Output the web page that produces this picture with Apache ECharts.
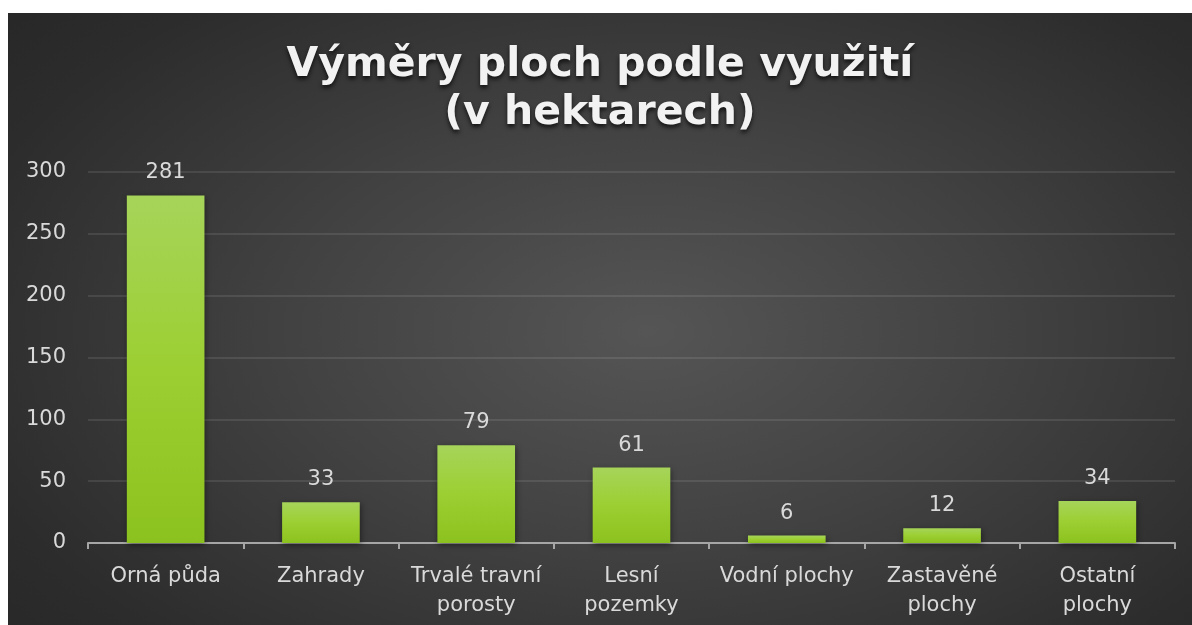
<!DOCTYPE html>
<html>
<head>
<meta charset="utf-8">
<script src="https://cdn.jsdelivr.net/npm/echarts@6/dist/echarts.min.js"></script>
<style>
  html, body { margin: 0; padding: 0; background: #ffffff; width: 1192px; height: 625px; overflow: hidden; }
  #chart { position: absolute; left: 8px; top: 13px; width: 1184px; height: 612px;
    background: radial-gradient(ellipse 75% 85% at 54% 52%, #555555 0%, #424242 40%, #2c2c2c 80%, #262626 100%); }
</style>
</head>
<body>
<div id="chart"></div>
<script>
const categories = ["Orná půda", "Zahrady", "Trvalé travní porosty", "Lesní pozemky", "Vodní plochy", "Zastavěné plochy", "Ostatní plochy"];
const tickLabels = ["Orná půda", "Zahrady", "Trvalé travní\nporosty", "Lesní\npozemky", "Vodní plochy", "Zastavěné\nplochy", "Ostatní\nplochy"];
const values = [281, 33, 79, 61, 6, 12, 34];
const titleLines = ["Výměry ploch podle využití", "(v hektarech)"];

const chart = echarts.init(document.getElementById('chart'), null, { renderer: 'canvas' });
const font = '"DejaVu Sans", sans-serif';
chart.setOption({
  backgroundColor: 'transparent',
  animation: false,
  title: {
    text: titleLines.join('\n'),
    left: 'center',
    top: 23,
    textStyle: {
      fontFamily: font,
      fontWeight: 'bold',
      fontSize: 41,
      lineHeight: 48,
      color: '#f2f2f2',
      textShadowColor: 'rgba(0,0,0,0.7)',
      textShadowBlur: 4,
      textShadowOffsetY: 3
    }
  },
  grid: { left: 80, right: 17, top: 159, bottom: 82, containLabel: false },
  xAxis: {
    type: 'category',
    data: categories,
    axisLine: { lineStyle: { color: '#a6a6a6', width: 2 } },
    axisTick: { show: true, length: 6, lineStyle: { color: '#a6a6a6', width: 2 } },
    axisLabel: {
      color: '#d9d9d9', fontFamily: font, fontSize: 21, lineHeight: 29, margin: 19,
      interval: 0,
      formatter: (v, i) => tickLabels[i]
    }
  },
  yAxis: {
    type: 'value', min: 0, max: 300, interval: 50,
    axisLine: { show: false },
    axisTick: { show: false },
    splitLine: { lineStyle: { color: 'rgba(255,255,255,0.13)', width: 1.5 } },
    axisLabel: { color: '#d9d9d9', fontFamily: font, fontSize: 21, margin: 22 }
  },
  series: [{
    type: 'bar',
    data: values,
    barWidth: '50%',
    itemStyle: {
      color: new echarts.graphic.LinearGradient(0, 0, 0, 1, [
        { offset: 0, color: '#a6d45a' },
        { offset: 0.5, color: '#9ccf32' },
        { offset: 1, color: '#8cc21f' }
      ]),
      shadowColor: 'rgba(0,0,0,0.45)',
      shadowBlur: 6,
      shadowOffsetX: 1,
      shadowOffsetY: 2
    },
    label: {
      show: true, position: 'top', distance: 12,
      color: '#d9d9d9', fontFamily: font, fontSize: 21
    }
  }]
});
</script>
</body>
</html>
